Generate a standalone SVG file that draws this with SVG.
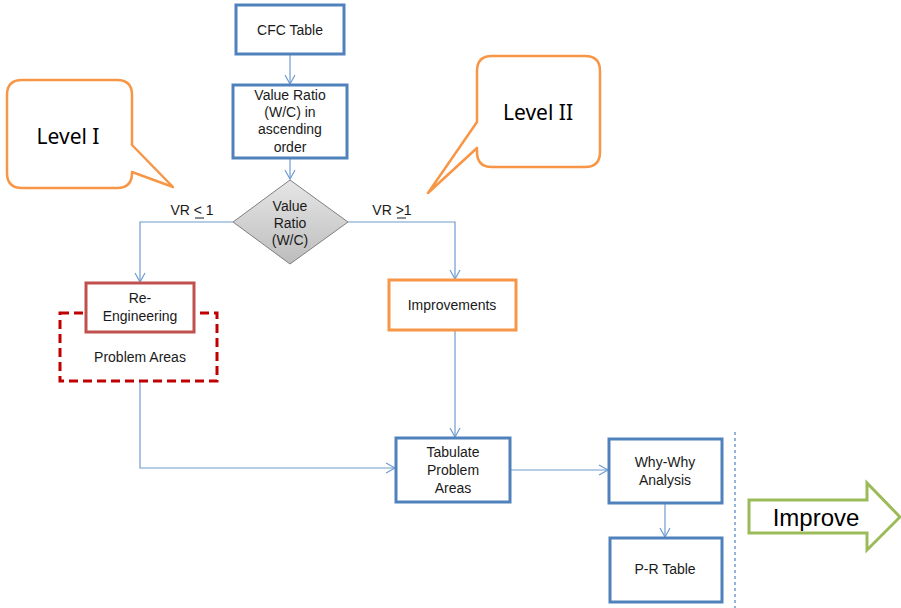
<svg xmlns="http://www.w3.org/2000/svg" width="901" height="608" viewBox="0 0 901 608">
<defs>
<marker id="arr" markerWidth="12" markerHeight="12" refX="10" refY="6" orient="auto" markerUnits="userSpaceOnUse">
<path d="M1,1 L10,6 L1,11" fill="none" stroke="#6f9bd1" stroke-width="1.2"/>
</marker>
<linearGradient id="gd" x1="0" y1="0" x2="0" y2="1">
<stop offset="0" stop-color="#e6e6e6"/>
<stop offset="1" stop-color="#bdbdbd"/>
</linearGradient>
</defs>
<style>
.box{fill:#fff;stroke:#4f81bd;stroke-width:3}
.t{font-family:"Liberation Sans",Arial,sans-serif;font-size:14px;fill:#1a1a1a;text-anchor:middle}
.c{fill:none;stroke:#6f9bd1;stroke-width:1.2;marker-end:url(#arr)}
.call{fill:#fff;stroke:#f79646;stroke-width:2.5;stroke-linejoin:round}
.lv{font-family:"Noto Sans","Open Sans",sans-serif;font-size:21px;fill:#000;text-anchor:middle}
</style>
<rect width="901" height="608" fill="#fff"/>

<g id="connectors">
<path class="c" d="M290,54 V84"/>
<path class="c" d="M290,158 V179"/>
<path class="c" d="M233,222 H140 V282"/>
<path class="c" d="M348,222 H455 V279"/>
<path class="c" d="M455,331 V437"/>
<path class="c" d="M140,382 V468 H395"/>
<path class="c" d="M511,470 H608"/>
<path class="c" d="M665,503 V537"/>
<line x1="735" y1="432" x2="735" y2="608" stroke="#6f9bd1" stroke-width="1.5" stroke-dasharray="3,3"/>
<text class="t" x="192" y="215">VR &lt; 1</text>
<line x1="195" y1="218" x2="204" y2="218" stroke="#1a1a1a" stroke-width="1"/>
<text class="t" x="392" y="215">VR &gt;1</text>
<line x1="397" y1="218" x2="406" y2="218" stroke="#1a1a1a" stroke-width="1"/>
</g>

<g id="level1">
<path class="call" d="M22,80 H117 Q132,80 132,95 V145 L173,187 L132,172 V173 Q132,188 117,188 H22 Q7,188 7,173 V95 Q7,80 22,80 Z"/>
<text class="lv" x="68" y="144">Level I</text>
</g>

<g id="level2">
<path class="call" d="M492,56 H585 Q600,56 600,71 V152 Q600,167 585,167 H492 Q477,167 477,152 V148 L428,193 L477,122 V71 Q477,56 492,56 Z"/>
<text class="lv" x="538" y="120">Level II</text>
</g>

<g id="cfc">
<rect class="box" x="236" y="5" width="108" height="49"/>
<text class="t" x="290" y="35">CFC Table</text>
</g>

<g id="valueratio">
<rect class="box" x="233" y="85" width="114" height="73"/>
<text class="t" x="290" y="100">Value Ratio</text>
<text class="t" x="290" y="117">(W/C) in</text>
<text class="t" x="290" y="134">ascending</text>
<text class="t" x="290" y="152">order</text>
</g>

<g id="decision">
<polygon points="290,180 348,222 290,264 233,222" fill="url(#gd)" stroke="#7f7f7f" stroke-width="1"/>
<text class="t" x="290" y="211" font-size="13">Value</text>
<text class="t" x="290" y="228" font-size="13">Ratio</text>
<text class="t" x="290" y="245" font-size="13">(W/C)</text>
</g>

<g id="problemareas">
<rect x="60" y="313" width="157" height="68" fill="#fff" stroke="#c00000" stroke-width="3" stroke-dasharray="9,5"/>
<text class="t" x="140" y="362">Problem Areas</text>
</g>

<g id="reengineering">
<rect x="86" y="283" width="108" height="49" fill="#fff" stroke="#c0504d" stroke-width="3"/>
<text class="t" x="140" y="303">Re-</text>
<text class="t" x="140" y="321">Engineering</text>
</g>

<g id="improvements">
<rect x="389" y="280" width="127" height="50" fill="#fff" stroke="#f79646" stroke-width="3"/>
<text class="t" x="452" y="310">Improvements</text>
</g>

<g id="tabulate">
<rect class="box" x="396" y="438" width="114" height="64"/>
<text class="t" x="453" y="457">Tabulate</text>
<text class="t" x="453" y="475">Problem</text>
<text class="t" x="453" y="493">Areas</text>
</g>

<g id="whywhy">
<rect class="box" x="609" y="439" width="113" height="64"/>
<text class="t" x="665" y="467">Why-Why</text>
<text class="t" x="665" y="485">Analysis</text>
</g>

<g id="prtable">
<rect class="box" x="610" y="538" width="112" height="64"/>
<text class="t" x="665" y="574">P-R Table</text>
</g>

<g id="improve">
<polygon points="749,500 867,500 867,483 900,517 867,550 867,533 749,533" fill="#fff" stroke="#9bbb59" stroke-width="3"/>
<text x="816" y="526" font-family="Liberation Sans,Arial,sans-serif" font-size="24" fill="#000" text-anchor="middle">Improve</text>
</g>
</svg>
